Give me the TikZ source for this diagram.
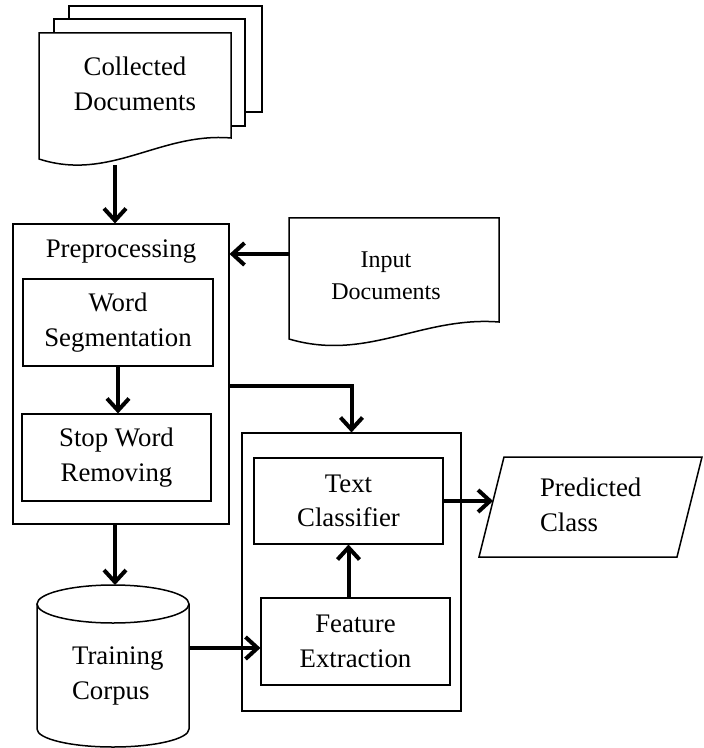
\documentclass[tikz,border=0pt]{standalone}
\usepackage{fontspec}
\setmainfont{Liberation Serif}
\usetikzlibrary{arrows.meta}
\tikzset{
  box/.style={draw, line width=0.55pt, inner sep=0pt},
  lbl/.style={align=center, font=\fontsize{13.4}{17.3}\selectfont},
  arr/.style={line width=2pt, -{Straight Barb[length=6pt,width=11pt]}},
  doc/.style={draw, line width=0.75pt, fill=white},
}
\begin{document}
\begin{tikzpicture}[x=0.5pt,y=-0.5pt]
\useasboundingbox (0,0) rectangle (704,748);
% stack of collected pages
\draw[doc] (69,6) rectangle (262,112);
\draw[doc] (54,19) rectangle (245,126);
\draw[doc] (231,138) .. controls (160,132) and (110,182) .. (39,159) -- (39,33) -- (231,33) -- cycle;
\node[lbl] (colldoc) at (135,84) {Collected\\Documents};
\coordinate (cdout) at (115,165);
% input document
\draw[doc] (499,322) .. controls (421,316) and (367,362) .. (289,339) -- (289,218) -- (499,218) -- cycle;
\node[lbl, font=\fontsize{12}{16}\selectfont] (indoc) at (386,276) {Input\\Documents};
\coordinate (indocin) at (289,254);
% preprocessing
\node[box, minimum width=108pt, minimum height=150pt] (prep) at (121,374) {};
\node[lbl] (preplbl) at (121,252) {Preprocessing};
\node[box, lbl, minimum width=95pt, minimum height=43.5pt] (wordseg) at (118,322.5) {Word\\Segmentation};
\node[box, lbl, minimum width=94.5pt, minimum height=43.5pt] (stopword) at (116.5,457.5) {Stop Word\\Removing};
% classifier
\node[box, minimum width=109.5pt, minimum height=139pt] (clsbox) at (351.5,572) {};
\node[box, lbl, minimum width=94.5pt, minimum height=43pt] (textcls) at (348.5,501) {Text\\Classifier};
\node[box, lbl, minimum width=94.5pt, minimum height=43.5pt] (feat) at (355.5,641.5) {Feature\\Extraction};
% output
\draw[doc] (504,457) -- (702,457) -- (677,557) -- (479,557) -- cycle;
\node[lbl, align=left, anchor=west] (pred) at (533,505) {Predicted\\Class};
\coordinate (predin) at (493,501);
% training corpus
\draw[doc] (37,604) -- (37,729) arc[start angle=180, end angle=0, x radius=76, y radius=18] -- (189,604);
\draw[doc] (113,604) ellipse[x radius=76, y radius=19];
\node[lbl, align=left, anchor=west] (corpus) at (65,676) {Training\\Corpus};
\coordinate (cyltop) at (115,585);
\coordinate (cylout) at (189,648);
\draw[arr] (cdout) -- (cdout |- prep.north);
\draw[arr] (indocin) -- (indocin -| prep.east);
\draw[arr] (wordseg.south) -- (wordseg.south |- stopword.north);
\draw[arr] ([yshift=-6pt]prep.east) -| (clsbox.north);
\draw[arr] (prep.south -| cyltop) -- (cyltop);
\draw[arr] (cylout) -- (cylout -| feat.west);
\draw[arr] (feat.north -| textcls.south) -- (textcls.south);
\draw[arr] (textcls.east) -- (predin);
\end{tikzpicture}
\end{document}
